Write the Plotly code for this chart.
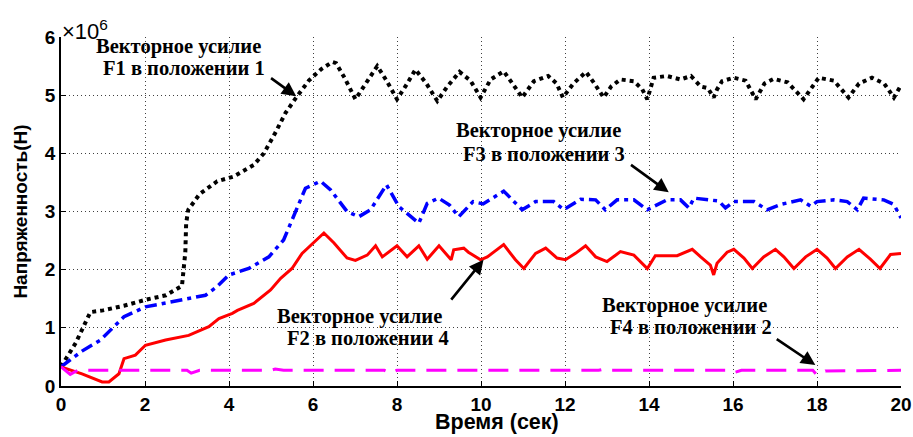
import plotly.graph_objects as go

# ---- data (values in units of 10^6 H) ----
t_f1 = [0, 0.35, 0.7, 1.0, 1.5, 2.0, 2.5, 2.88, 2.96, 2.98, 3.03, 3.3, 3.72, 4.11, 4.59, 4.83, 5.1, 5.35,
        5.62, 5.9, 6.2, 6.46, 6.55, 6.75, 7.01, 7.25, 7.53, 7.75, 8.0, 8.2, 8.44, 8.7, 8.96, 9.2, 9.49,
        9.75, 9.99, 10.23, 10.54, 10.75, 10.98, 11.26, 11.6, 11.8, 11.95, 12.2, 12.5, 12.7, 12.92, 13.1,
        13.32, 13.64, 13.84, 13.96, 14.11, 14.43, 14.75, 15.0, 15.23, 15.4, 15.54, 15.62, 15.74, 16.02,
        16.3, 16.54, 16.75, 16.97, 17.3, 17.68, 17.85, 18.04, 18.4, 18.75, 19.0, 19.31, 19.6, 19.83, 20.0]
f1 = [0.33, 0.74, 1.27, 1.3, 1.38, 1.48, 1.56, 1.72, 2.3, 2.8, 3.03, 3.3, 3.52, 3.6, 3.8, 4.0, 4.35, 4.7,
      4.98, 5.25, 5.45, 5.57, 5.55, 5.3, 4.93, 5.2, 5.5, 5.25, 4.93, 5.15, 5.44, 5.2, 4.9, 5.15, 5.4,
      5.25, 4.96, 5.27, 5.41, 5.2, 4.96, 5.24, 5.33, 5.2, 4.96, 5.2, 5.4, 5.2, 4.96, 5.15,
      5.27, 5.24, 5.1, 4.93, 5.3, 5.33, 5.27, 5.33, 5.15, 5.12, 4.96, 5.1, 5.24, 5.3,
      5.25, 4.93, 5.2, 5.28, 5.22, 4.93, 5.1, 5.3, 5.25, 4.96, 5.2, 5.3, 5.2, 4.96, 5.17]

t_f3 = [0, 0.15, 0.5, 0.94, 1.2, 1.5, 2.01, 2.65, 3.44, 3.7, 4.0, 4.47, 4.95, 5.3, 5.54, 5.82, 6.18, 6.42,
        6.81, 7.09, 7.37, 7.75, 8.05, 8.32, 8.52, 8.72, 8.99, 9.25, 9.47, 9.81, 10.05, 10.54, 10.98,
        11.3, 11.73, 11.97, 12.37, 12.73, 12.96, 13.24, 13.64, 13.96, 14.43, 14.75, 14.95, 15.07,
        15.46, 15.66, 15.82, 16.02, 16.5, 16.81, 17.13, 17.61, 17.85, 18.0, 18.4, 18.72, 18.96, 19.11,
        19.59, 19.83, 20.0]
f3 = [0.33, 0.41, 0.6, 0.79, 0.97, 1.19, 1.36, 1.45, 1.56, 1.7, 1.91, 2.02, 2.22, 2.51, 2.91, 3.4, 3.52, 3.37,
      3.0, 2.91, 3.03, 3.46, 3.08, 2.91, 2.8, 3.14, 3.23, 3.11, 2.91, 3.17, 3.13, 3.35, 3.03,
      3.17, 3.17, 3.03, 3.21, 3.2, 3.03, 3.2, 3.2, 3.03, 3.2, 3.2, 3.06, 3.23,
      3.2, 3.18, 3.06, 3.17, 3.17, 3.03, 3.12, 3.2, 3.09, 3.17, 3.2, 3.17, 3.03, 3.23,
      3.2, 3.12, 2.89]

t_f2 = [0, 0.5, 0.98, 1.14, 1.38, 1.5, 1.77, 2.01, 2.49, 3.04, 3.52, 3.76, 4.08, 4.2, 4.59, 4.99, 5.23,
        5.5, 5.74, 6.02, 6.26, 6.5, 6.81, 7.01, 7.29, 7.49, 7.65, 8.0, 8.24, 8.52, 8.72, 9.0, 9.29,
        9.35, 9.59, 9.7, 9.99, 10.15, 10.54, 10.82, 11.02, 11.3, 11.54, 11.81, 12.01, 12.25, 12.49,
        12.73, 13.0, 13.32, 13.64, 13.96, 14.15, 14.67, 15.03, 15.23, 15.46, 15.54, 15.62, 15.86,
        16.02, 16.26, 16.46, 16.73, 17.01, 17.21, 17.45, 17.73, 18.0, 18.24, 18.44, 18.72, 19.0,
        19.27, 19.5, 19.75, 20.0]
f2 = [0.33, 0.21, 0.07, 0.07, 0.21, 0.47, 0.53, 0.7, 0.79, 0.87, 1.02, 1.16, 1.25, 1.3, 1.42, 1.65, 1.85,
      2.02, 2.28, 2.46, 2.63, 2.46, 2.2, 2.16, 2.25, 2.41, 2.22, 2.41, 2.22, 2.41, 2.18, 2.41, 2.17,
      2.34, 2.37, 2.3, 2.17, 2.22, 2.43, 2.17, 2.02, 2.28, 2.37, 2.2, 2.17, 2.28, 2.41,
      2.22, 2.14, 2.31, 2.25, 2.02, 2.24, 2.24, 2.35, 2.22, 2.08, 1.91, 2.11, 2.3,
      2.35, 2.2, 2.02, 2.22, 2.35, 2.22, 2.02, 2.22, 2.35, 2.2, 2.02, 2.22, 2.35,
      2.18, 2.02, 2.26, 2.28]

t_f4 = [0, 0.22, 0.4, 3.0, 3.1, 3.3, 5.0, 5.1, 5.3, 7.7, 7.85, 8.0, 12.8, 12.92, 13.1,
        15.9, 16.02, 16.2, 17.9, 18.0, 18.2, 20]
f4 = [0.33, 0.2, 0.27, 0.27, 0.22, 0.27, 0.27, 0.29, 0.27, 0.27, 0.22, 0.27, 0.27, 0.29, 0.27,
      0.27, 0.23, 0.27, 0.27, 0.19, 0.26, 0.27]

x_ticks = [0, 2, 4, 6, 8, 10, 12, 14, 16, 18, 20]
y_ticks = [0, 1, 2, 3, 4, 5, 6]

# label lines: (text, x, y)
label_lines = [
    ("Векторное усилие", 2.80, 5.845), ("F1 в положении 1", 2.92, 5.47),
    ("Векторное усилие", 11.37, 4.39), ("F3 в положении 3", 11.51, 3.99),
    ("Векторное усилие", 7.11, 1.19), ("F2 в положении 4", 7.30, 0.82),
    ("Векторное усилие", 14.85, 1.39), ("F4 в положении 2", 15.01, 1.02),
]
# arrows: (tail x, tail y, head x, head y)
arrows = [
    (4.93, 5.33, 5.6, 4.98),
    (13.5, 3.84, 14.47, 3.33),
    (9.22, 1.42, 10.06, 2.17),
    (16.97, 0.84, 17.96, 0.36),
]

fig = go.Figure()
fig.add_trace(go.Scatter(x=t_f1, y=f1, mode="lines", line=dict(color="black", width=4, dash="4px,4px")))
fig.add_trace(go.Scatter(x=t_f3, y=f3, mode="lines", line=dict(color="#0000ff", width=3.5, dash="12px,5px,4px,5px")))
fig.add_trace(go.Scatter(x=t_f2, y=f2, mode="lines", line=dict(color="#ff0000", width=3)))
fig.add_trace(go.Scatter(x=t_f4, y=f4, mode="lines", line=dict(color="#ff00ff", width=3, dash="20px,11px")))

for txt, tx, ty in label_lines:
    fig.add_annotation(x=tx, y=ty, xref="x", yref="y", text=txt, showarrow=False,
                       font=dict(family="Liberation Serif", size=20.5, color="black", weight="bold"))
for axx, ayy, hx, hy in arrows:
    fig.add_annotation(x=hx, y=hy, ax=axx, ay=ayy, xref="x", yref="y",
                       axref="x", ayref="y", text=" ", showarrow=True, arrowhead=2, arrowsize=1.1,
                       arrowwidth=2.6, arrowcolor="black")

fig.add_annotation(x=0, y=1.0, xref="paper", yref="paper", xanchor="left", yanchor="bottom",
                   text="×10<sup>6</sup>", showarrow=False, yshift=-9, xshift=-1,
                   font=dict(family="Liberation Sans", size=22, color="black"))
fig.add_annotation(x=0.519, y=0, xref="paper", yref="paper", xanchor="center", yanchor="middle",
                   text="Время (сек)", showarrow=False, yshift=-36,
                   font=dict(family="Liberation Sans", size=21.5, color="black", weight="bold"))

axis_common = dict(showgrid=True, gridcolor="rgba(0,0,0,0.75)", griddash="1px,3px", gridwidth=1,
                   showline=True, linecolor="black", linewidth=1.5, ticks="inside", ticklen=5,
                   tickcolor="black", zeroline=False, mirror=False, automargin=False,
                   tickfont=dict(family="Liberation Sans", size=19, color="black", weight="bold"))

fig.update_xaxes(range=[0, 20], tickvals=x_ticks, **axis_common)
fig.update_yaxes(range=[0, 6], tickvals=y_ticks,
                 title=dict(text="Напряженность(Н)", standoff=12,
                            font=dict(family="Liberation Sans", size=19, color="black", weight="bold")),
                 **axis_common)

fig.update_layout(width=913, height=437, margin=dict(l=61, r=12, t=37, b=51, autoexpand=False),
                  paper_bgcolor="white", plot_bgcolor="white", showlegend=False)

fig.write_html("out.html", config={"displayModeBar": False},
               post_script="document.body.style.margin='0';document.body.style.overflow='hidden';")
